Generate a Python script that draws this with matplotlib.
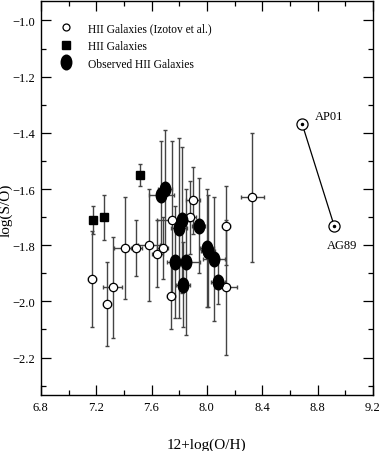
import matplotlib
matplotlib.use('Agg')
import matplotlib.pyplot as plt
from matplotlib.path import Path
from matplotlib.transforms import Affine2D
from matplotlib.lines import Line2D
from matplotlib.ticker import MultipleLocator

# HII galaxies from Izotov et al. (open circles)
izo_x = [7.17, 7.32, 7.28, 7.41, 7.49, 7.58, 7.64, 7.68, 7.74, 7.90, 7.75, 7.88, 8.14, 8.14, 8.33]
izo_y = [-1.92, -1.95, -2.01, -1.81, -1.81, -1.80, -1.83, -1.81, -1.98, -1.64, -1.71, -1.70, -1.73, -1.95, -1.63]
izo_yerr = [0.17, 0.18, 0.15, 0.18, 0.10, 0.20, 0.12, 0.11, 0.12, 0.12, 0.28, 0.13, 0.14, 0.24, 0.23]
izo_xerr = [0.03, 0.07, 0.03, 0.08, 0.04, 0.08, 0.04, 0.04, 0.03, 0.05, 0.11, 0.04, 0.03, 0.08, 0.08]

# HII galaxies (filled squares)
sq_x = [7.18, 7.26, 7.52]
sq_y = [-1.71, -1.70, -1.55]
sq_yerr = [0.05, 0.08, 0.04]
sq_xerr = [0.02, 0.02, 0.02]

# observed HII galaxies (filled ellipses)
obs_x = [7.67, 7.70, 7.82, 7.80, 7.94, 8.00, 8.01, 8.05, 7.77, 7.85, 7.83, 8.08]
obs_y = [-1.62, -1.60, -1.71, -1.74, -1.73, -1.81, -1.82, -1.85, -1.86, -1.86, -1.94, -1.93]
obs_yerr = [0.19, 0.21, 0.26, 0.32, 0.17, 0.21, 0.20, 0.22, 0.20, 0.26, 0.15, 0.08]
obs_xerr = [0.09, 0.05, 0.05, 0.06, 0.05, 0.05, 0.05, 0.08, 0.06, 0.10, 0.05, 0.05]

# solar values
sun_x = [8.69, 8.92]
sun_y = [-1.37, -1.73]
sun_names = ['AP01', 'AG89']
sun_text_x = [8.78, 8.865]
sun_text_y = [-1.34, -1.80]

plt.rcParams['font.family'] = 'Liberation Serif'

ellipse = Path.unit_circle().transformed(Affine2D().scale(0.72, 1.0))

fig = plt.figure(figsize=(3.82, 4.52), dpi=100)
ax = fig.add_axes([0.107, 0.124, 0.869, 0.872])

ebar = dict(fmt='none', ecolor='#444444', elinewidth=1.0, capsize=1.5, capthick=1.0, zorder=1)

ax.errorbar(izo_x, izo_y, yerr=izo_yerr, xerr=izo_xerr, **ebar)
ax.errorbar(sq_x, sq_y, yerr=sq_yerr, xerr=sq_xerr, **ebar)
ax.errorbar(obs_x, obs_y, yerr=obs_yerr, xerr=obs_xerr, **ebar)

ax.plot(izo_x, izo_y, 'o', ms=6, mfc='white', mec='black', mew=0.9, ls='none', zorder=3)
ax.plot(sq_x, sq_y, 's', ms=5.5, mfc='black', mec='black', ls='none', zorder=3)
ax.plot(obs_x, obs_y, marker=ellipse, ms=10.5, mfc='black', mec='black', ls='none', zorder=4)

ax.plot(sun_x, sun_y, '-', color='black', lw=0.9, zorder=2)
ax.plot(sun_x, sun_y, 'o', ms=8, mfc='white', mec='black', mew=0.9, ls='none', zorder=3)
ax.plot(sun_x, sun_y, 'o', ms=1.5, color='black', ls='none', zorder=4)
for tx, ty, name in zip(sun_text_x, sun_text_y, sun_names):
    ax.text(tx, ty, name, fontsize=9, ha='left', va='center')

ax.set_xlim(6.8, 9.2)
ax.set_ylim(-2.333, -0.930)
ax.xaxis.set_major_locator(MultipleLocator(0.4))
ax.xaxis.set_minor_locator(MultipleLocator(0.2))
ax.yaxis.set_major_locator(MultipleLocator(0.2))
ax.yaxis.set_minor_locator(MultipleLocator(0.1))
ax.xaxis.set_major_formatter(plt.FormatStrFormatter('%.1f'))
ax.yaxis.set_major_formatter(plt.FuncFormatter(lambda v, p: f'{v:.1f}'.replace('-', '\u2212')))
ax.tick_params(which='both', direction='in', top=True, right=True, labelsize=9, width=0.9)
ax.tick_params(which='major', length=7, pad=4)
ax.tick_params(which='minor', length=3.5)
for s in ax.spines.values():
    s.set_linewidth(1.0)

ax.set_xlabel('12+log(O/H)', fontsize=11)
ax.set_ylabel('log(S/O)', fontsize=11)
ax.xaxis.set_label_coords(0.5, -0.107)
ax.yaxis.set_label_coords(-0.085, 0.47)

handles = [
    Line2D([], [], marker='o', ms=5, mfc='white', mec='black', mew=0.9, ls='none'),
    Line2D([], [], marker='s', ms=5.5, mfc='black', mec='black', ls='none'),
    Line2D([], [], marker=ellipse, ms=10.5, mfc='black', mec='black', ls='none'),
]
labels = ['HII Galaxies (Izotov et al.)', 'HII Galaxies', 'Observed HII Galaxies']
ax.legend(handles, labels, loc='upper left', bbox_to_anchor=(0.035, 0.958), frameon=False,
          fontsize=8.3, handletextpad=1.2, labelspacing=0.5, borderaxespad=0, handlelength=1.5)

fig.savefig('out.png', dpi=100)
